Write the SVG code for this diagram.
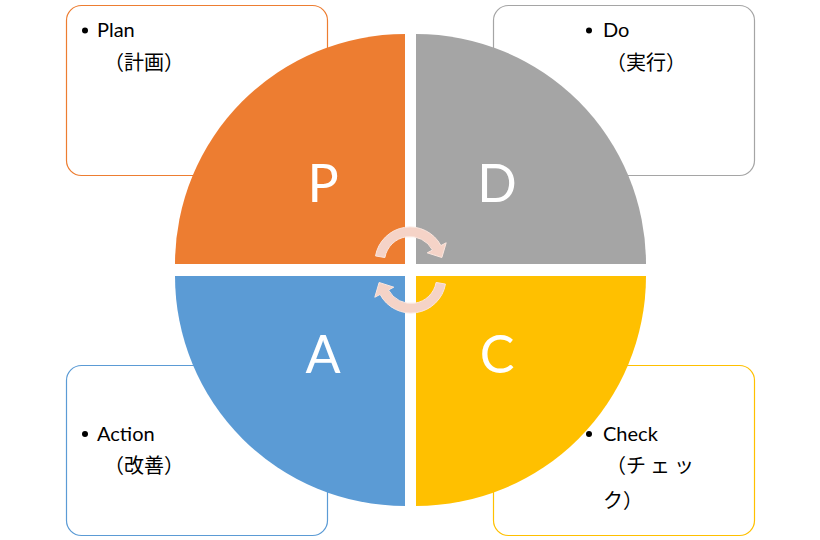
<svg xmlns="http://www.w3.org/2000/svg" width="820" height="540" viewBox="0 0 820 540">
<style>
.box{fill:#ffffff;stroke-width:1.2}
.t{font-family:Lato,"Noto Sans CJK JP",sans-serif;font-size:20px;fill:#000000}
.j{font-family:"Noto Sans CJK JP",sans-serif;font-size:20px;fill:#000000}
.big{font-family:Lato,"Open Sans",sans-serif;font-size:52px;fill:#ffffff;text-anchor:middle}
.arr{fill:#F5D3C7;stroke:#FBE6DE;stroke-width:1}
</style>
<defs>
<path id="carrow" d="M375.53,255.92 A35,35 0 0 1 440.90,245.57 L446.20,242.75 L441.87,257.51 L427.22,252.84 L432.51,250.03 A25.5,25.5 0 0 0 384.89,257.57 Z"/>
</defs>
<rect width="820" height="540" fill="#ffffff"/>
<g id="box-plan">
<rect class="box" x="66.5" y="5.5" width="261" height="170" rx="15" stroke="#ED7D31"/>
<circle cx="85" cy="30.5" r="3" fill="#000"/>
<text class="t" x="97" y="37">Plan</text>
<text class="j" x="104" y="70">（計画）</text>
</g>
<g id="box-do">
<rect class="box" x="493.5" y="5.5" width="261" height="170" rx="15" stroke="#A5A5A5"/>
<circle cx="589" cy="30.5" r="3" fill="#000"/>
<text class="t" x="603" y="37">Do</text>
<text class="j" x="606" y="70">（実行）</text>
</g>
<g id="box-action">
<rect class="box" x="66.5" y="365.5" width="261" height="170" rx="15" stroke="#5B9BD5"/>
<circle cx="85" cy="434" r="3" fill="#000"/>
<text class="t" x="97" y="440.5">Action</text>
<text class="j" x="104" y="472.5">（改善）</text>
</g>
<g id="box-check">
<rect class="box" x="493.5" y="365.5" width="261" height="170" rx="15" stroke="#FFC000"/>
<circle cx="589" cy="434" r="3" fill="#000"/>
<text class="t" x="603" y="440.5">Check</text>
<text class="j" x="606 626 650 674" y="473">（チェッ</text>
<text class="j" x="603" y="508">ク）</text>
</g>
<g id="node-p">
<path d="M405,264 L175,264 A230,230 0 0 1 405,34 Z" fill="#ED7D31"/>
<text class="big" x="323" y="202">P</text>
</g>
<g id="node-d">
<path d="M416,264 L416,34 A230,230 0 0 1 646,264 Z" fill="#A5A5A5"/>
<text class="big" x="497" y="202">D</text>
</g>
<g id="node-c">
<path d="M416,276 L646,276 A230,230 0 0 1 416,506 Z" fill="#FFC000"/>
<text class="big" x="497" y="373">C</text>
</g>
<g id="node-a">
<path d="M405,276 L405,506 A230,230 0 0 1 175,276 Z" fill="#5B9BD5"/>
<text class="big" x="323" y="373">A</text>
</g>
<g id="connectors">
<use href="#carrow" class="arr"/>
<use href="#carrow" class="arr" transform="rotate(180 410.5 270)"/>
</g>
</svg>
